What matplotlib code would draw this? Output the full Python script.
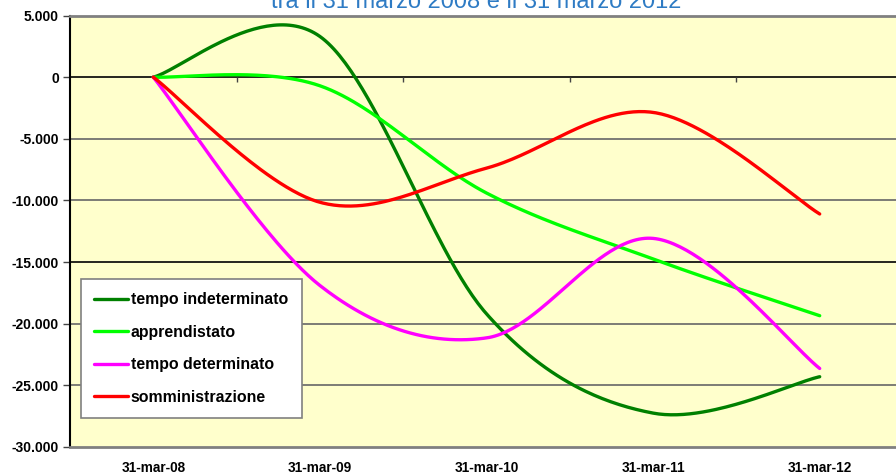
import numpy as np
import matplotlib
matplotlib.use("Agg")
import matplotlib.pyplot as plt
from matplotlib.ticker import FuncFormatter, FixedLocator

plt.rcParams['font.family'] = ['Liberation Sans', 'DejaVu Sans']

# ---------------- data ----------------
categories = ["31-mar-08", "31-mar-09", "31-mar-10", "31-mar-11", "31-mar-12"]
tempo_indeterminato = [0, 3300, -19200, -27250, -24300]
apprendistato = [0, -700, -9400, -14750, -19350]
tempo_determinato = [0, -16900, -21150, -13080, -23630]
somministrazione = [0, -10150, -7380, -2860, -11100]

series_names = ["tempo indeterminato", "apprendistato", "tempo determinato", "somministrazione"]
series_values = [tempo_indeterminato, apprendistato, tempo_determinato, somministrazione]
series_colors = ["#008000", "#00FF00", "#FF00FF", "#FF0000"]

y_ticks = [5000, 0, -5000, -10000, -15000, -20000, -25000, -30000]
title_text = "tra il 31 marzo 2008 e il 31 marzo 2012"


def excel_smooth(xs, ys, n=60):
    """Catmull-Rom style Bezier smoothing (like Excel's smoothed line)."""
    P = np.column_stack([xs, ys]).astype(float)
    m = len(P)
    out = []
    for i in range(m - 1):
        p0 = P[i - 1] if i > 0 else P[i]
        p1 = P[i]
        p2 = P[i + 1]
        p3 = P[i + 2] if i + 2 < m else P[i + 1]
        c1 = p1 + (p2 - p0) / 6.0
        c2 = p2 - (p3 - p1) / 6.0
        t = np.linspace(0, 1, n)[:, None]
        seg = ((1 - t) ** 3) * p1 + 3 * ((1 - t) ** 2) * t * c1 + 3 * (1 - t) * t ** 2 * c2 + t ** 3 * p2
        if i > 0:
            seg = seg[1:]
        out.append(seg)
    out = np.vstack(out)
    return out[:, 0], out[:, 1]


W, H = 896, 475
fig = plt.figure(figsize=(W / 100, H / 100), dpi=100)
ax = fig.add_axes([70 / W, (H - 447) / H, 833 / W, 431.5 / H])
ax.set_facecolor("#FFFFCC")

x = np.arange(len(categories))
handles = []
for name, vals, col in zip(series_names, series_values, series_colors):
    sx, sy = excel_smooth(x, vals)
    ln, = ax.plot(sx, sy, color=col, lw=2.4, solid_capstyle='round', label=name, zorder=3)
    handles.append(ln)

ax.set_xlim(-0.5, len(categories) - 0.5)
ax.set_ylim(min(y_ticks), max(y_ticks))

# y axis
ax.yaxis.set_major_locator(FixedLocator(y_ticks))
ax.yaxis.set_major_formatter(FuncFormatter(lambda v, p: f"{v:,.0f}".replace(",", ".")))
ax.tick_params(axis='y', direction='out', length=5, width=1, color='#444444', pad=3,
               labelsize=10)
for lab in ax.get_yticklabels():
    lab.set_fontweight('bold')

# x axis
ax.set_xticks(x)
ax.set_xticklabels(categories, fontweight='bold', fontsize=9.8)
ax.tick_params(axis='x', length=0, pad=10)

# grid lines
ax.yaxis.grid(True, color='#666666', lw=1.2, zorder=1)
ax.set_axisbelow(True)
for v, gl in zip(y_ticks, ax.get_ygridlines()):
    if v in (0, -15000):
        gl.set_color('black')
    if v in (5000, -30000):
        gl.set_visible(False)

# zero line ticks at category boundaries
ax.vlines(np.arange(len(categories) - 1) + 0.5, -380, 0, colors='#444444', lw=1, zorder=2)

# spines
ax.spines['left'].set_color('black')
ax.spines['left'].set_linewidth(1.5)
for s in ('top', 'bottom', 'right'):
    ax.spines[s].set_color('#808080')
    ax.spines[s].set_linewidth(2)

# legend
leg = ax.legend(handles=handles, loc='lower left', bbox_to_anchor=(0.0132, 0.0672),
                borderaxespad=0, frameon=True, fancybox=False, framealpha=1,
                prop={'weight': 'bold', 'size': 11.4}, handlelength=2.1,
                handletextpad=0.2, labelspacing=1.1, borderpad=0.85)
leg.get_frame().set_edgecolor('#808080')
leg.get_frame().set_linewidth(1.2)
leg.get_frame().set_facecolor('white')

# title (partially cut off at top, as in the reference)
fig.text(476 / W, 1 - 8 / H, title_text, ha='center', va='baseline',
         fontsize=17, color='#2E7BC4')

fig.savefig("out.png", dpi=100)
